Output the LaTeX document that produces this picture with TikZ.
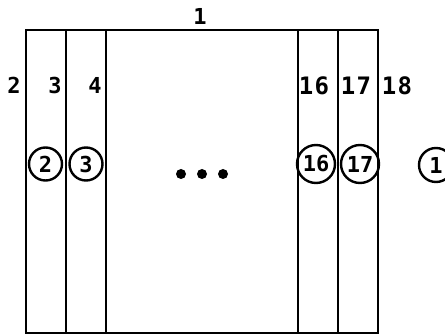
\documentclass[tikz,border=0pt]{standalone}
\usepackage{fontspec}
\newfontfamily\dmono{DejaVu Sans Mono}
\newcommand\smallnum{\dmono\bfseries\fontsize{22}{22}\selectfont}
\newcommand\bignum{\dmono\bfseries\fontsize{24}{24}\selectfont}
\begin{document}
\begin{tikzpicture}[x=1pt,y=-1pt,
  wall/.style={line width=2.8pt, line cap=rect},
  numlabel/.style={inner sep=0pt},
  circ/.style={circle, draw, line width=2.4pt, inner sep=0pt},
  dot/.style={circle, fill, inner sep=0pt, minimum size=10pt}]
\useasboundingbox (0,0) rectangle (445,334);
% walls
\coordinate (tl) at (26,30);
\coordinate (tr) at (378,30);
\coordinate (bl) at (26,333);
\coordinate (br) at (378,333);
\draw[wall] (bl) -- (tl) -- (tr) -- (br) -- cycle;
\coordinate (at) at (66,30);  \coordinate (ab) at (66,333);
\coordinate (bt) at (106,30); \coordinate (bb) at (106,333);
\coordinate (ct) at (298,30); \coordinate (cb) at (298,333);
\coordinate (dt) at (338,30); \coordinate (db) at (338,333);
\draw[wall] (at) -- (ab);
\draw[wall] (bt) -- (bb);
\draw[wall] (ct) -- (cb);
\draw[wall] (dt) -- (db);
% labels
\node[numlabel] (l1) at (200,16) {\smallnum 1};
\node[numlabel] (l2) at (14,85) {\smallnum 2};
\node[numlabel] (l3) at (55,85) {\smallnum 3};
\node[numlabel] (l4) at (95,85) {\smallnum 4};
\node[numlabel] (l16) at (314,86) {\bignum 1\kern1.5pt6};
\node[numlabel] (l17) at (356,86) {\bignum 1\kern1.5pt7};
\node[numlabel] (l18) at (397,86) {\bignum 1\kern1.5pt8};
% circled
\node[circ, minimum size=33pt] (c2) at (45.5,164) {\smallnum 2};
\node[circ, minimum size=33pt] (c3) at (86,164) {\smallnum 3};
\node[circ, minimum size=38pt] (c16) at (316,164) {\smallnum 16};
\node[circ, minimum size=38pt] (c17) at (360,164) {\smallnum 17};
\node[circ, minimum size=34pt] (c1) at (436,165) {\smallnum 1};
% dots
\node[dot] (d1) at (181,174) {};
\node[dot] (d2) at (202,174) {};
\node[dot] (d3) at (223,174) {};
\end{tikzpicture}
\end{document}
